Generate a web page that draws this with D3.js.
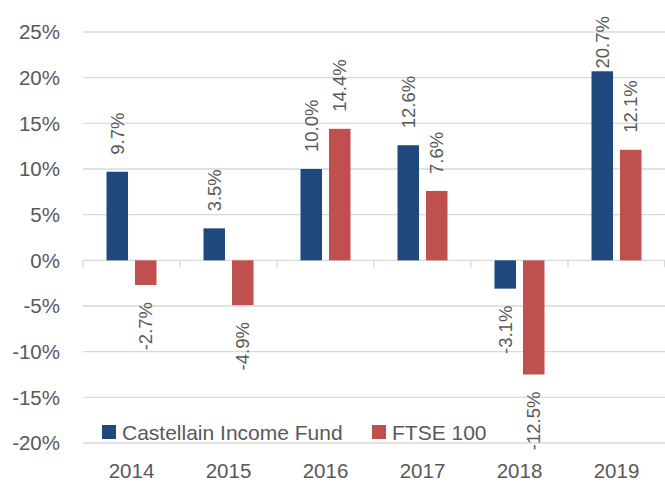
<!DOCTYPE html>
<html lang="en">
<head>
    <meta charset="UTF-8">
    <title>Castellain Income Fund vs FTSE 100</title>
    <script src="https://d3js.org/d3.v7.min.js"></script>
    <style>
        body {
            margin: 0;
            background-color: white;
        }
        svg {
            display: block;
            font-family: "Liberation Sans", Arial, sans-serif;
        }
    </style>
</head>
<body>

<svg id="chart" width="665" height="483"></svg>
<script>
    const years = ["2014", "2015", "2016", "2017", "2018", "2019"];
    const fundValues = [9.7, 3.5, 10.0, 12.6, -3.1, 20.7];
    const ftseValues = [-2.7, -4.9, 14.4, 7.6, -12.5, 12.1];
    const seriesNames = ["Castellain Income Fund", "FTSE 100"];
    const yTicks = [-20, -15, -10, -5, 0, 5, 10, 15, 20, 25];

    const colors = ["#1F497D", "#C0504D"];
    const textColor = "#595959";
    const gridColor = "#D9D9D9";

    const width = 665;
    const height = 483;
    const margin = {top: 32, right: 0, bottom: 40, left: 83};
    const labelGap = 17;
    const labelTop = 16; // labels are pushed inside the chart area

    const series = [fundValues, ftseValues];
    const rows = years.map((year, i) => ({
        year,
        values: series.map((vals, s) => ({s, value: vals[i]}))
    }));

    const svg = d3.select("#chart");

    const x = d3.scaleBand()
        .domain(years)
        .range([margin.left, width - margin.right])
        .paddingInner(0)
        .paddingOuter(0);

    const xInner = d3.scaleBand()
        .domain(d3.range(series.length))
        .range([0, x.bandwidth()])
        .paddingInner(0.245)
        .paddingOuter(0.825);

    const y = d3.scaleLinear()
        .domain([-20, 25])
        .range([443, margin.top]);

    // gridlines
    svg.append("g")
        .selectAll("line")
        .data(yTicks)
        .join("line")
        .attr("x1", margin.left)
        .attr("x2", width - margin.right)
        .attr("y1", d => y(d))
        .attr("y2", d => y(d))
        .attr("stroke", gridColor)
        .attr("stroke-width", 1.3);

    // y tick labels
    svg.append("g")
        .attr("text-anchor", "end")
        .attr("fill", textColor)
        .style("font-size", "20.5px")
        .selectAll("text")
        .data(yTicks)
        .join("text")
        .attr("x", 60)
        .attr("y", d => y(d))
        .attr("dy", "0.36em")
        .text(d => d + "%");

    // category ticks on the zero line
    svg.append("g")
        .selectAll("line")
        .data(years.concat(["end"]))
        .join("line")
        .attr("x1", (d, i) => i < years.length ? x(d) : x.range()[1] - 0.5)
        .attr("x2", (d, i) => i < years.length ? x(d) : x.range()[1] - 0.5)
        .attr("y1", y(0))
        .attr("y2", y(0) + 7)
        .attr("stroke", gridColor)
        .attr("stroke-width", 1.3);

    // bars
    const group = svg.append("g")
        .selectAll("g")
        .data(rows)
        .join("g")
        .attr("transform", d => `translate(${x(d.year)},0)`);

    group.selectAll("rect")
        .data(d => d.values)
        .join("rect")
        .attr("x", d => xInner(d.s))
        .attr("width", xInner.bandwidth())
        .attr("y", d => y(Math.max(0, d.value)))
        .attr("height", d => Math.abs(y(d.value) - y(0)))
        .attr("fill", d => colors[d.s]);

    // data labels
    group.selectAll("text")
        .data(d => d.values)
        .join("text")
        .attr("fill", textColor)
        .style("font-size", "18.5px")
        .attr("text-anchor", d => d.value >= 0 ? "start" : "end")
        .attr("dy", "0.36em")
        .text(d => d.value.toFixed(1) + "%")
        .attr("transform", function(d) {
            const cx = xInner(d.s) + xInner.bandwidth() / 2;
            let cy;
            if (d.value >= 0) {
                const len = this.getComputedTextLength();
                cy = Math.max(y(d.value) - labelGap, labelTop + len);
            } else {
                cy = y(d.value) + labelGap;
            }
            return `translate(${cx},${cy}) rotate(-90)`;
        });

    // x labels
    svg.append("g")
        .attr("text-anchor", "middle")
        .attr("fill", textColor)
        .style("font-size", "20.5px")
        .selectAll("text")
        .data(years)
        .join("text")
        .attr("x", d => x(d) + x.bandwidth() / 2)
        .attr("y", 478)
        .text(d => d);

    // legend
    const legendX = [102, 372];
    const legend = svg.append("g")
        .selectAll("g")
        .data(seriesNames)
        .join("g")
        .attr("transform", (d, i) => `translate(${legendX[i]},425)`);

    legend.append("rect")
        .attr("width", 14)
        .attr("height", 14)
        .attr("fill", (d, i) => colors[i]);

    legend.append("text")
        .attr("x", 20)
        .attr("y", 7)
        .attr("dy", "0.36em")
        .attr("fill", textColor)
        .style("font-size", "21px")
        .text(d => d);
</script>
</body>
</html>
